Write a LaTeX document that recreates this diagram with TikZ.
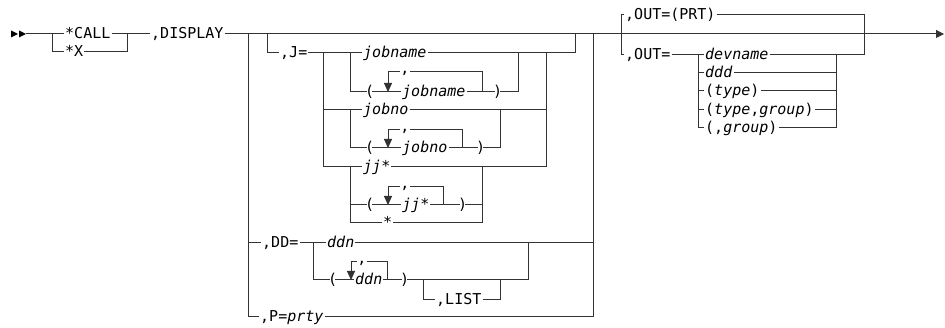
\documentclass[tikz,border=0pt]{standalone}
\usepackage{fontspec}
\setmonofont{DejaVu Sans Mono}
\usetikzlibrary{arrows.meta}
\newcommand{\railfont}{\fontsize{15}{18}\selectfont\ttfamily}

\begin{document}
\begin{tikzpicture}[x=1pt,y=-1pt,
  rail/.style={draw=black!80,line width=1pt},
  kw/.style={font=\railfont,inner sep=1pt,anchor=west,text height=10pt,text depth=0pt},
  var/.style={kw,font=\railfont\itshape},
  par/.style={kw,inner xsep=-2pt},
  sep/.style={font=\railfont,inner sep=0.8pt,fill=white,anchor=base},
  rep/.style={rail,-{Triangle[width=8pt,length=9pt]}}]
\useasboundingbox (0,0) rectangle (945,328);
% start
\fill (11,30.5) -- (18,34) -- (11,37.5) -- cycle;
\fill (19,30.5) -- (26,34) -- (19,37.5) -- cycle;
\coordinate (st) at (26,34);
\coordinate (fin) at (944,34);
% *CALL / *X
\coordinate (c1) at (52,34);
\coordinate (c2) at (127,34);
\node[kw] (call) at (64,34) {*CALL};
\node[kw] (x) at (64,52) {*X};
\node[kw] (disp) at (150,34) {,DISPLAY};
\draw[rail] (st) -- (call.west);
\draw[rail] (call.east) -- (disp.west);
\draw[rail] (c1) |- (x.west);
\draw[rail] (x.east) -| (c2);
\draw[rail,-{Triangle[width=8pt,length=8pt]}] (disp.east) -- (fin);

% J=
\coordinate (j1) at (267,34);
\coordinate (j2) at (575,34);
\coordinate (ja) at (323,53);
\coordinate (jb) at (350,53);
\coordinate (jc) at (518,53);
\coordinate (jd) at (546,53);
\node[kw] (jeq) at (279,53) {,J=};
\node[var] (jname) at (362,53) {jobname};
\draw[rail] (j1) |- (jeq.west);
\draw[rail] (jeq.east) -- (jname.west);
\draw[rail] (jname.east) -| (j2);
% (jobname)
\coordinate (r1) at (482,92);
\coordinate (a1) at (388,92);
\node[par] (lp1) at (367,92) {(};
\node[var] (jname2) at (401,92) {jobname};
\node[par] (rp1) at (495,92) {)};
\draw[rail] (jb) |- (lp1.west);
\draw[rail] (lp1.east) -- (jname2.west);
\draw[rail] (jname2.east) -- (rp1.west);
\draw[rail] (rp1.east) -| (jc);
\draw[rep] (r1) -- ++(0,-20) -| (a1);
\node[sep] at (405,74) {,};
% jobno
\coordinate (je) at (350,110);
\coordinate (jf) at (500,110);
\coordinate (r2) at (462,148);
\coordinate (a2) at (388,148);
\node[var] (jno) at (362,110) {jobno};
\draw[rail] (ja) |- (jno.west);
\draw[rail] (jno.east) -| (jd);
\node[par] (lp2) at (367,148) {(};
\node[var] (jno2) at (401,148) {jobno};
\node[par] (rp2) at (478,148) {)};
\draw[rail] (je) |- (lp2.west);
\draw[rail] (lp2.east) -- (jno2.west);
\draw[rail] (jno2.east) -- (rp2.west);
\draw[rail] (rp2.east) -| (jf);
\draw[rep] (r2) -- ++(0,-18) -| (a2);
\node[sep] at (405,132) {,};
% jj*
\coordinate (jg) at (350,167);
\coordinate (jh) at (482,167);
\coordinate (r3) at (443,205);
\coordinate (a3) at (388,205);
\node[var] (jj) at (362,167) {jj*};
\draw[rail] (ja) |- (jj.west);
\draw[rail] (jj.east) -| (jd);
\node[par] (lp3) at (367,205) {(};
\node[var] (jj2) at (401,205) {jj*};
\node[par] (rp3) at (460,205) {)};
\node[kw] (star) at (382,223) {*};
\draw[rail] (jg) |- (lp3.west);
\draw[rail] (lp3.east) -- (jj2.west);
\draw[rail] (jj2.east) -- (rp3.west);
\draw[rail] (rp3.east) -| (jh);
\draw[rail] (jg) |- (star.west);
\draw[rail] (star.east) -| (jh);
\draw[rep] (r3) -- ++(0,-18) -| (a3);
\node[sep] at (405,189) {,};

% DD=
\coordinate (g1) at (248,34);
\coordinate (g2) at (593,34);
\coordinate (d1) at (313,243);
\coordinate (d2) at (528,243);
\coordinate (d3) at (423,280);
\coordinate (d4) at (500,280);
\coordinate (r4) at (387,280);
\coordinate (a4) at (351,280);
\node[kw] (dd) at (261,243) {,DD=};
\node[var] (ddn) at (326,243) {ddn};
\draw[rail] (g1) |- (dd.west);
\draw[rail] (dd.east) -- (ddn.west);
\draw[rail] (ddn.east) -| (g2);
\node[par] (lp4) at (330,280) {(};
\node[var] (ddn2) at (354,280) {ddn};
\node[par] (rp4) at (402,280) {)};
\draw[rail] (d1) |- (lp4.west);
\draw[rail] (lp4.east) -- (ddn2.west);
\draw[rail] (ddn2.east) -- (rp4.west);
\draw[rail] (rp4.east) -| (d2);
\draw[rep] (r4) -- ++(0,-18) -| (a4);
\node[sep] at (362,264) {,};
\node[kw] (list) at (435,300) {,LIST};
\draw[rail] (d3) |- (list.west);
\draw[rail] (list.east) -| (d4);
% P=
\node[kw] (p) at (259,317) {,P=\textit{prty}};
\draw[rail] (g1) |- (p.west);
\draw[rail] (p.east) -| (g2);

% OUT=
\coordinate (o1) at (621,34);
\coordinate (o2) at (864,34);
\coordinate (o3) at (698,55);
\coordinate (o4) at (836,55);
\node[kw] (prt) at (624,15) {,OUT=(PRT)};
\node[kw] (out) at (624,55) {,OUT=};
\draw[rail] (o1) |- (prt.west);
\draw[rail] (prt.east) -| (o2);
\draw[rail] (o1) |- (out.west);
\node[var] (dev) at (704,55) {devname};
\node[var] (ddd) at (704,73) {ddd};
\node[kw] (typ) at (704,91) {(\textit{type})};
\node[kw] (tg) at (704,110) {(\textit{type},\textit{group})};
\node[kw] (grp) at (704,128) {(,\textit{group})};
\draw[rail] (out.east) -- (dev.west);
\draw[rail] (dev.east) -| (o2);
\draw[rail] (o3) |- (ddd.west);
\draw[rail] (o3) |- (typ.west);
\draw[rail] (o3) |- (tg.west);
\draw[rail] (o3) |- (grp.west);
\draw[rail] (ddd.east) -| (o4);
\draw[rail] (typ.east) -| (o4);
\draw[rail] (tg.east) -| (o4);
\draw[rail] (grp.east) -| (o4);
\end{tikzpicture}
\end{document}
